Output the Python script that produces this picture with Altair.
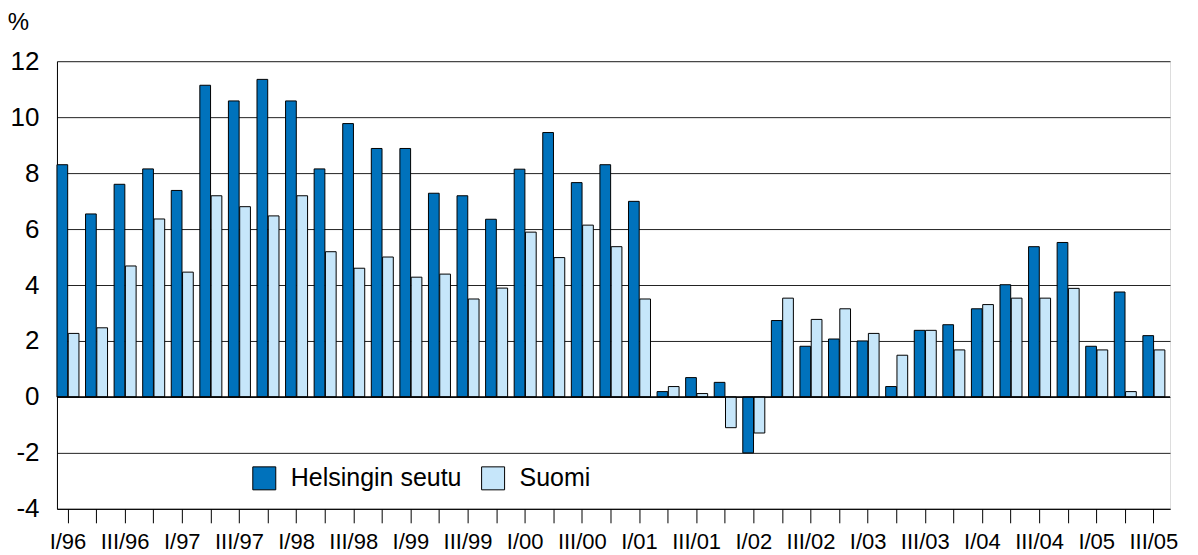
import altair as alt
import pandas as pd

quarters = []
for yr in ["96", "97", "98", "99", "00", "01", "02", "03", "04", "05"]:
    for q in ["I", "II", "III", "IV"]:
        quarters.append(f"{q}/{yr}")
quarters = quarters[:39]

helsinki = [8.30, 6.54, 7.60, 8.15, 7.38, 11.14, 10.58, 11.35, 10.58, 8.15,
            9.77, 8.88, 8.88, 7.28, 7.19, 6.35, 8.14, 9.45, 7.66, 8.30,
            6.99, 0.19, 0.69, 0.52, -2.00, 2.73, 1.81, 2.07, 2.00, 0.37,
            2.38, 2.58, 3.15, 4.01, 5.37, 5.52, 1.81, 3.75, 2.19]
suomi = [2.27, 2.47, 4.68, 6.36, 4.46, 7.19, 6.80, 6.47, 7.19, 5.19,
         4.60, 5.00, 4.28, 4.39, 3.50, 3.89, 5.89, 4.98, 6.14, 5.37,
         3.50, 0.37, 0.12, -1.10, -1.29, 3.53, 2.77, 3.15, 2.27, 1.49,
         2.38, 1.68, 3.30, 3.53, 3.53, 3.88, 1.68, 0.19, 1.68]

series_names = ["Helsingin seutu", "Suomi"]
colors = ["#0072BC", "#C6E6FA"]
y_ticks = [-4, -2, 0, 2, 4, 6, 8, 10, 12]

rows = []
for i, q in enumerate(quarters):
    rows.append({"q": q, "s": series_names[0], "v": helsinki[i]})
    rows.append({"q": q, "s": series_names[1], "v": suomi[i]})
df = pd.DataFrame(rows)

FONT = "Liberation Sans"

bars = alt.Chart(df).mark_bar(stroke="black", strokeWidth=1).encode(
    x=alt.X("q:N", sort=quarters, title=None,
            scale=alt.Scale(paddingInner=0.23, paddingOuter=0.09, align=0),
            axis=alt.Axis(labelAngle=0, tickSize=14, tickColor="black", domainColor="black",
                          labelFontSize=22, labelPadding=9, labelColor="black", labelFont=FONT,
                          labelExpr="indexof(datum.value, 'I/') == 0 || indexof(datum.value, 'III/') == 0 ? datum.value : ''")),
    xOffset=alt.XOffset("s:N", sort=series_names, scale=alt.Scale(paddingInner=0.05)),
    y=alt.Y("v:Q", scale=alt.Scale(domain=[-4, 12], nice=False, zero=False),
            axis=alt.Axis(values=y_ticks, grid=True, gridColor="#222", gridWidth=1,
                          tickSize=0, labelPadding=18, labelFontSize=26, labelColor="black",
                          labelFont=FONT, domainColor="black",
                          labelExpr="toString(datum.value)",
                          title="%", titleAngle=0, titleX=-39, titleY=-39,
                          titleAlign="center", titleBaseline="middle",
                          titleFontSize=24, titleFontWeight="normal", titleFont=FONT, titleColor="black")),
    color=alt.Color("s:N", sort=series_names,
                    scale=alt.Scale(domain=series_names, range=colors),
                    legend=alt.Legend(title=None, orient="none", legendX=195, legendY=405,
                                      direction="horizontal", symbolType="square", symbolSize=529,
                                      symbolStrokeColor="black", symbolStrokeWidth=1,
                                      labelFontSize=25, labelFont=FONT, labelColor="black",
                                      labelLimit=400, columnPadding=18, labelOffset=14)),
)

zero = alt.Chart(pd.DataFrame({"z": [0]})).mark_rule(color="black", strokeWidth=1.5).encode(
    y=alt.Y("z:Q")
)

chart = alt.layer(bars, zero).properties(
    width=1114, height=448,
    autosize=alt.AutoSizeParams(type="none"),
    padding={"left": 49, "top": 53, "right": 20, "bottom": 70},
).configure_view(stroke="black", strokeWidth=1).configure(background="white")

chart.save("out.html", embed_options={"renderer": "svg", "actions": False})
